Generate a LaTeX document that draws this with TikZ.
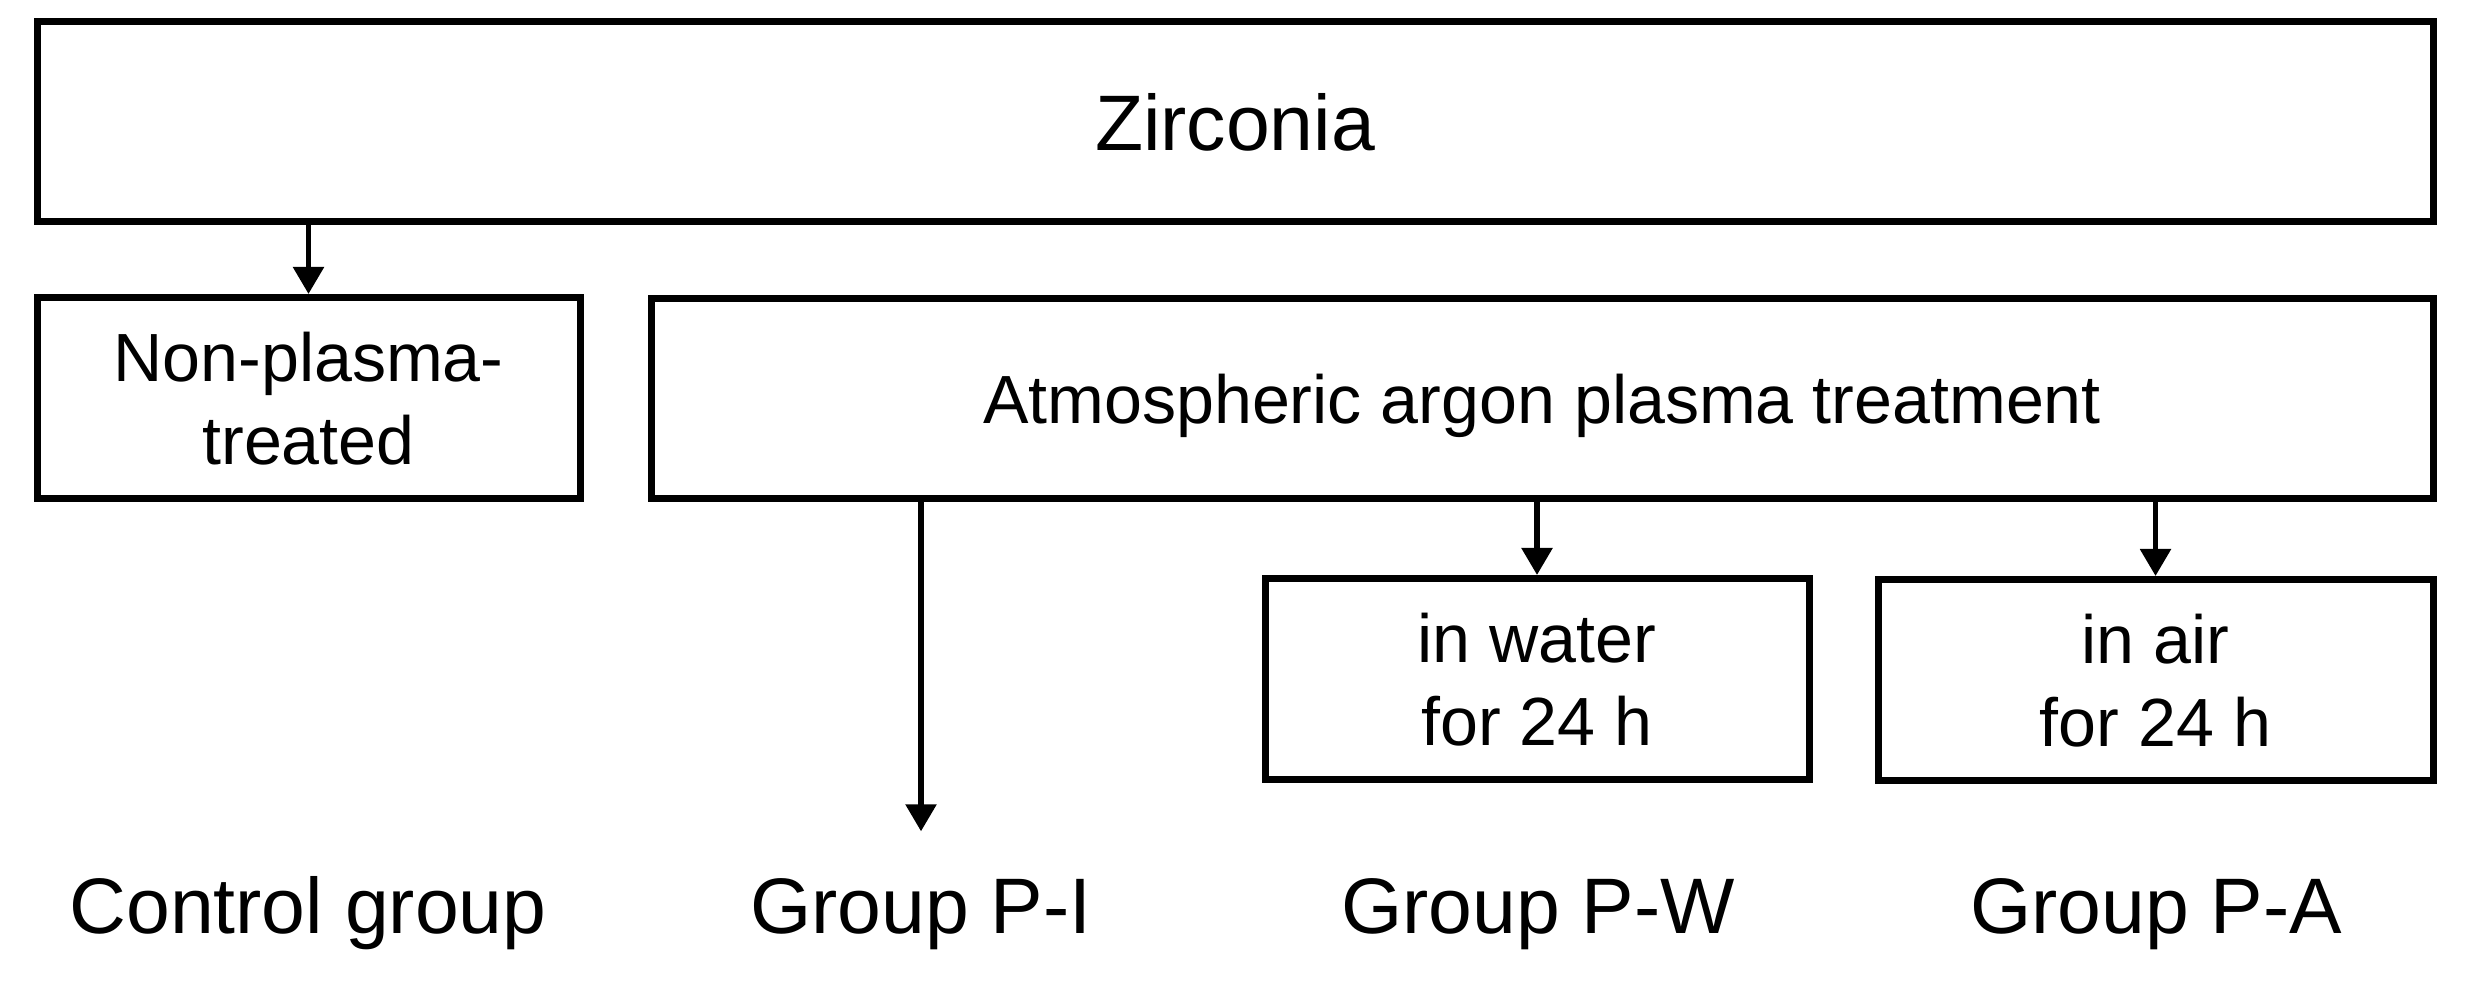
\documentclass[tikz,border=0pt]{standalone}
\usepackage{fontspec}
\setmainfont{Liberation Sans}
\usetikzlibrary{arrows.meta}

\begin{document}
\begin{tikzpicture}[box/.style={draw, line width=0.07cm, minimum height=2.01cm, inner sep=0pt,
                      align=center, text depth=0pt, font=\fontsize{19.4}{23.6}\selectfont},
                    grouplabel/.style={anchor=base, inner sep=0pt, font=\fontsize{22.4}{27}\selectfont},
                    arr/.style={-{Triangle[length=0.27cm,width=0.30cm]}, line width=0.055cm}]
%\draw [help lines] (0,-10) grid (25,0);
\useasboundingbox (0,0) rectangle (24.72,-9.85);

\node[box, minimum width=23.96cm, minimum height=2.00cm,
      font=\fontsize{22.4}{27}\selectfont]            (zirc)  at (12.35,-1.22)  {Zirconia};
\node[box, minimum width=5.43cm]                      (nonp)  at (3.085,-3.98)  {Non-plasma-\\treated};
\node[box, minimum width=17.82cm, minimum height=2.00cm] (atmo) at (15.42,-3.99) {Atmospheric argon plasma treatment};
\node[box, minimum width=5.44cm]                      (water) at (15.37,-6.79)  {in water\\for 24 h};
\node[box, minimum width=5.55cm]                      (air)   at (21.555,-6.80) {in air\\for 24 h};

% Group labels
\node[grouplabel] (ctrl) at (3.08,-9.33)  {Control group};
\node[grouplabel] (grpi) at (9.21,-9.33)  {Group P-I};
\node[grouplabel] (grpw) at (15.38,-9.33) {Group P-W};
\node[grouplabel] (grpa) at (21.56,-9.33) {Group P-A};

% Edges
\draw[arr] (zirc.south -| nonp) -- (nonp.north);
\draw[arr, shorten >=0.46cm] (atmo.south -| grpi) -- (grpi.north);
\draw[arr] (atmo.south -| water) -- (water.north);
\draw[arr] (atmo.south -| air)   -- (air.north);

\end{tikzpicture}
\end{document}
